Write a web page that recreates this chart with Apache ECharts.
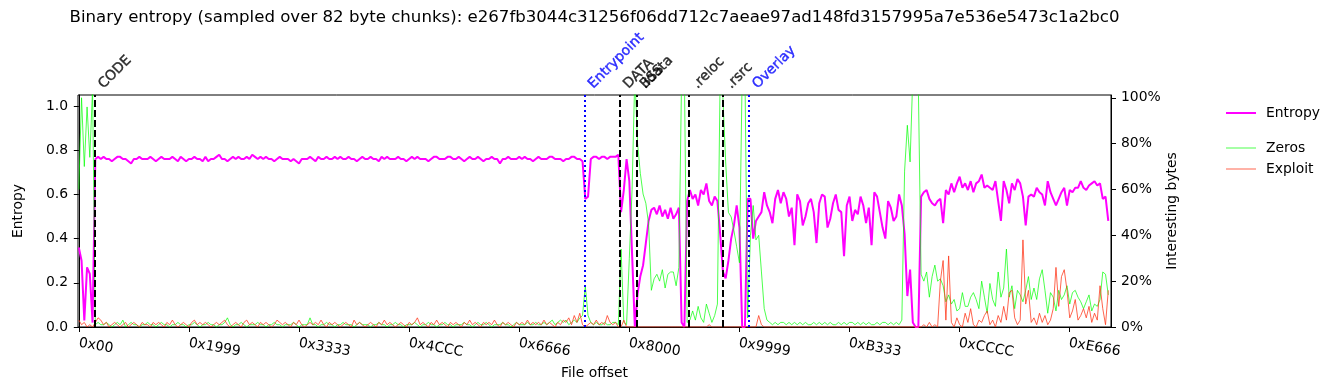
<!DOCTYPE html>
<html><head><meta charset="utf-8">
<script src="https://cdn.jsdelivr.net/npm/echarts@6/dist/echarts.min.js"></script>
<style>html,body{margin:0;padding:0;background:#fff}#c{width:1335px;height:390px}</style>
</head><body><div id="c"></div><script>
// ---------------- DATA ----------------
const CHUNK = 82;            // bytes per sampled chunk
const STEP = 2 * CHUNK;      // each stored value covers two chunks
const TITLE = 'Binary entropy (sampled over 82 byte chunks): e267fb3044c31256f06dd712c7aeae97ad148fd3157995a7e536e5473c1a2bc0';

// entropy, in hundredths (0..100)
const entropyHeader = [36,30,3,27,24,2];
const entropyCode = [
76,77,76,77,76,76,75,76,77,77, 76,76,75,74,76,76,77,76,76,76, 77,76,75,76,77,76,76,76,77,76,
75,77,76,75,76,76,77,76,76,75, 77,75,76,76,77,78,76,76,75,76, 77,76,77,76,76,77,76,78,77,76,
77,76,77,76,76,75,76,77,76,76, 76,75,76,75,74,76,76,76,77,76, 75,77,76,76,77,76,76,77,76,77,
76,76,77,76,76,75,76,77,76,76, 77,76,76,75,77,76,77,76,76,76, 77,76,76,75,76,77,76,77,76,76,
76,75,76,77,77,76,76,76,77,77, 76,76,77,76,75,76,77,76,76,77, 76,75,76,76,77,76,76,74,76,76,
77,76,76,76,77,76,77,76,76,75, 76,77,76,76,76,77,77,76,76,76, 75,76,76,77,77,76,76,75];
const entropyEntry = [58,59,76,77,77,76,77,77,76,77,77,77,78];
const entropySections = [
52,62,76,66,33,0,15,23,28,38, 48,53,54,51,55,50,53,49,54,49, 51,54,2,0,57,62,58,60,55,62,
60,65,57,55,59,57,42,25,22,30, 40,46,55,45,0,0,58];
const entropyOverlayA = [
58,40,48,50,52,61,55,52,47,58, 62,56,61,58,50,54,37,60,57,46, 50,56,58,52,38,56,60,59,45,49,
56,60,53,52,32,55,59,48,53,51, 59,55,47,54,37,61,59,52,45,40, 57,54,48,50,60,55,42,14,26,2,
0,0];
const entropyOverlayB = [
59,61,62,58,56,55,57,58,47,62, 60,65,61,65,68,63,65,62,66,61, 65,66,69,63,64,63,62,66,57,48,
66,62,56,65,62,67,65,59,46,59, 60,59,63,61,60,55,66,61,58,55, 58,61,63,55,62,61,63,63,66,63,
62,64,65,66,64,65,58,59,48];

// zero bytes, percent
const zerosHeader = [60,100,70,96,74,104];
const zerosCode = [
1,2,1,1,2,1,0,1,2,1, 3,0,1,2,1,1,0,1,1,2, 1,1,0,1,2,1,1,0,1,1, 2,1,1,0,1,1,2,1,0,1,
1,2,1,1,0,1,1,2,4,1, 0,1,1,2,1,0,1,1,1,2, 1,1,0,1,1,2,1,1,0,1, 1,1,2,1,0,1,1,1,4,1,
1,0,1,1,2,1,1,0,1,1, 2,1,1,1,0,1,2,1,1,1, 0,1,1,2,1,1,0,1,1,2, 1,1,0,1,1,1,2,1,0,1,
1,2,1,1,0,1,1,2,1,1, 0,1,1,1,2,1,1,0,1,2, 1,1,2,1,0,1,1,1,2,1, 1,0,1,2,1,1,1,2,1,1,
2,1,1,2,1,2,3,1,2,3, 2,3,1,2,3,2,4,5];
const zerosEntry = [18,5,2,1,2,1,1,2,1,1,2,2,1];
const zerosSections = [
34,2,1,30,60,110,80,67,58,54, 45,16,21,23,20,25,17,23,24,24, 18,26,110,110,2,3,7,3,9,4,
2,10,6,2,5,10,110,100,72,50, 48,42,35,28,110,110,4];
const zerosOverlayA = [
40,53,38,40,24,8,3,2,1,2, 1,2,2,1,2,1,2,1,2,1, 2,1,1,2,1,2,1,2,1,2, 1,1,2,1,2,1,2,2,1,2,
1,2,1,2,1,1,2,1,2,2, 1,2,1,2,1,3,68,88,72,110, 110,105];
const zerosOverlayB = [
23,20,24,13,22,27,20,21,18,11, 14,10,12,7,8,15,9,9,13,15, 12,8,20,13,6,19,12,9,24,13,
17,34,13,18,8,16,14,11,16,22, 12,17,12,21,25,16,6,15,13,7, 16,12,14,18,10,15,16,13,11,8,
11,14,7,10,9,12,24,23,14];

// exploit-like bytes, percent
const exploitHeader = [3,1,2,0,1,0];
const exploitCode = [
2,4,3,1,2,0,1,2,1,0, 1,2,0,1,2,1,0,2,1,1, 0,2,1,2,1,0,2,1,3,1, 0,1,2,1,0,2,3,1,2,1,
2,1,0,1,2,1,2,3,1,0, 1,2,1,0,2,3,1,2,1,0, 2,1,2,1,0,1,3,2,1,2, 1,0,2,1,3,1,0,1,2,1,
2,1,3,1,0,2,1,2,1,0, 1,2,1,0,3,1,2,1,0,1, 2,1,0,2,1,3,1,2,1,0, 1,2,1,0,2,1,2,4,1,2,
1,0,2,1,3,1,2,1,0,2, 1,2,1,0,2,1,3,1,2,1, 0,2,1,2,1,3,1,0,2,1, 2,1,0,2,1,2,1,3,1,2,
1,2,1,3,1,2,1,0,2,1, 3,2,4,1,5,2,6,1];
const exploitEntry = [0,1,2,1,3,1,2,1,5,2,1,2,0];
const exploitSections = [
0,3,0,0,0,0,0,0,0,0, 0,0,0,0,0,0,0,0,0,0, 0,0,0,0,0,0,0,0,0,0, 0,0,1,0,0,0,0,0,0,0,
0,0,0,0,0,0,0];
const exploitOverlayA = [
0,0,0,5,1,0,0,0,0,0, 0,0,0,0,0,0,0,0,0,0, 0,0,0,0,0,0,0,0,0,0, 0,0,0,0,0,0,0,0,0,0,
0,0,0,0,0,0,0,0,0,0, 0,0,0,0,0,0,0,0,0,0, 0,0];
const exploitOverlayB = [
0,1,0,2,0,1,0,20,29,3, 31,2,0,4,1,0,6,2,8,1, 0,3,2,5,7,1,3,0,5,2, 9,3,15,16,4,1,3,38,10,16,
2,4,1,6,2,5,1,3,8,26, 9,22,25,16,4,7,12,3,5,8, 4,9,2,6,3,18,8,1,16];

// section starts (file offsets) and markers
const sectionNames = ['CODE', 'DATA', 'BSS', '.idata', '.reloc', '.rsrc'];
const sectionOffsets = [960, 32245, 33240, 33240, 36355, 38365];
const markerNames = ['Entrypoint', 'Overlay'];
const markerOffsets = [30140, 39930];

// axis ticks
const xTickValues = [0, 6553, 13107, 19660, 26214, 32768, 39321, 45875, 52428, 58982];
const xTickLabels = ['0x00','0x1999','0x3333','0x4CCC','0x6666','0x8000','0x9999','0xB333','0xCCCC','0xE666'];
const leftTicks = [0, 0.2, 0.4, 0.6, 0.8, 1.0];
const rightTicks = [0, 20, 40, 60, 80, 100];

// ---------------- BUILD ----------------
const entropy = [].concat(entropyHeader, entropyCode, entropyEntry, entropySections, entropyOverlayA, entropyOverlayB);
const zeros = [].concat(zerosHeader, zerosCode, zerosEntry, zerosSections, zerosOverlayA, zerosOverlayB);
const exploit = [].concat(exploitHeader, exploitCode, exploitEntry, exploitSections, exploitOverlayA, exploitOverlayB);

const X_MIN = -48, X_MAX = 61498, E_MAX = 1.05, P_MAX = 101.2;
const FONT = 'DejaVu Sans';
const FS = 13.9;
const G = {left: 78, right: 224, top: 95, bottom: 63};

const mc = document.createElement('canvas').getContext('2d');
const TFS = 16.6;
mc.font = TFS + 'px "DejaVu Sans"';
const tw = mc.measureText(TITLE).width;
const plotCenter = G.left + (1335 - G.left - G.right) / 2;

const labelData = sectionNames.map((n, k) => ({value: [sectionOffsets[k], E_MAX], name: n,
    label: {color: '#000', textBorderColor: '#000', textBorderWidth: 0.4}}))
  .concat(markerNames.map((n, k) => ({value: [markerOffsets[k], E_MAX], name: n,
    label: {color: '#0000ff', textBorderColor: '#0000ff', textBorderWidth: 0.4}})));
const lineData = sectionOffsets.map(v => ({xAxis: v, lineStyle: {color: '#000', type: [7, 3], width: 2}}))
  .concat(markerOffsets.map(v => ({xAxis: v, lineStyle: {color: '#0000ff', type: [2, 3], width: 2}})));

const chart = echarts.init(document.getElementById('c'));
chart.setOption({
  animation: false,
  textStyle: {fontFamily: FONT},
  title: {
    text: TITLE, left: plotCenter - tw / 2, top: 9, padding: 0,
    textStyle: {fontFamily: FONT, fontSize: TFS, fontWeight: 'normal', color: '#000'}
  },
  grid: {left: G.left, right: G.right, top: G.top, bottom: G.bottom, show: true, borderColor: '#000', borderWidth: 1, backgroundColor: 'transparent'},
  legend: [
    {left: 1226, top: 106, orient: 'vertical', padding: 0, itemWidth: 30, itemHeight: 2, icon: 'rect',
     selectedMode: false, data: ['Entropy'],
     textStyle: {fontFamily: FONT, fontSize: FS, color: '#000', padding: [0, 0, 0, 5]}},
    {left: 1226, top: 141, orient: 'vertical', padding: 0, itemWidth: 30, itemHeight: 1, itemGap: 7, icon: 'rect',
     selectedMode: false, data: ['Zeros', 'Exploit'],
     textStyle: {fontFamily: FONT, fontSize: FS, color: '#000', padding: [0, 0, 0, 5]}}
  ],
  xAxis: {
    type: 'value', min: X_MIN, max: X_MAX,
    name: 'File offset', nameLocation: 'middle', nameGap: 39, nameMoveOverlap: false,
    nameTextStyle: {fontFamily: FONT, fontSize: FS, color: '#000'},
    axisLine: {onZero: false, lineStyle: {color: '#000', width: 1}},
    axisTick: {customValues: xTickValues, length: 5, lineStyle: {color: '#000'}},
    axisLabel: {customValues: xTickValues, rotate: -10, margin: 16, fontFamily: FONT, fontSize: FS, color: '#000',
      formatter: v => xTickLabels[xTickValues.indexOf(v)]},
    splitLine: {show: false}
  },
  yAxis: [
    {type: 'value', min: 0, max: E_MAX, position: 'left',
     name: 'Entropy', nameLocation: 'middle', nameRotate: 90, nameGap: 53, nameMoveOverlap: false,
     nameTextStyle: {fontFamily: FONT, fontSize: FS, color: '#000'},
     axisLine: {show: true, lineStyle: {color: '#000'}},
     axisTick: {show: true, customValues: leftTicks, length: 5, lineStyle: {color: '#000'}},
     axisLabel: {customValues: leftTicks, margin: 10, fontFamily: FONT, fontSize: FS, color: '#000',
       formatter: v => v.toFixed(1)},
     splitLine: {show: false}},
    {type: 'value', min: 0, max: P_MAX, position: 'right',
     name: 'Interesting bytes', nameLocation: 'middle', nameRotate: 90, nameGap: 54, nameMoveOverlap: false,
     nameTextStyle: {fontFamily: FONT, fontSize: FS, color: '#000'},
     axisLine: {show: true, lineStyle: {color: '#000'}},
     axisTick: {show: true, customValues: rightTicks, length: 5, lineStyle: {color: '#000'}},
     axisLabel: {customValues: rightTicks, margin: 10, fontFamily: FONT, fontSize: FS, color: '#000',
       formatter: v => v + '%'},
     splitLine: {show: false}}
  ],
  series: [
    {name: 'Entropy', type: 'line', xAxisIndex: 0, yAxisIndex: 0, showSymbol: false, symbol: 'none', z: 2,
     color: '#ff00ff', lineStyle: {color: '#ff00ff', width: 2},
     data: entropy.map((v, i) => [i * STEP, v / 100])},
    {name: 'Zeros', type: 'line', xAxisIndex: 0, yAxisIndex: 1, showSymbol: false, symbol: 'none', z: 3,
     color: 'rgba(0,255,0,0.7)', lineStyle: {color: 'rgba(0,255,0,0.7)', width: 1},
     data: zeros.map((v, i) => [i * STEP, v])},
    {name: 'Exploit', type: 'line', xAxisIndex: 0, yAxisIndex: 1, showSymbol: false, symbol: 'none', z: 4,
     color: 'rgba(255,50,20,0.75)', lineStyle: {color: 'rgba(255,50,20,0.75)', width: 1},
     data: exploit.map((v, i) => [i * STEP, v])},
    {name: 'sections', type: 'scatter', xAxisIndex: 0, yAxisIndex: 0, clip: false, z: 6,
     symbolSize: 1, itemStyle: {color: 'rgba(0,0,0,0)'}, silent: true,
     label: {show: true, position: [6.5, -8], rotate: 45, align: 'left', verticalAlign: 'middle',
       fontFamily: FONT, fontSize: FS, formatter: p => p.name},
     data: labelData,
     markLine: {silent: true, symbol: ['none', 'none'], label: {show: false}, animation: false, data: lineData}}
  ]
});
</script></body></html>
